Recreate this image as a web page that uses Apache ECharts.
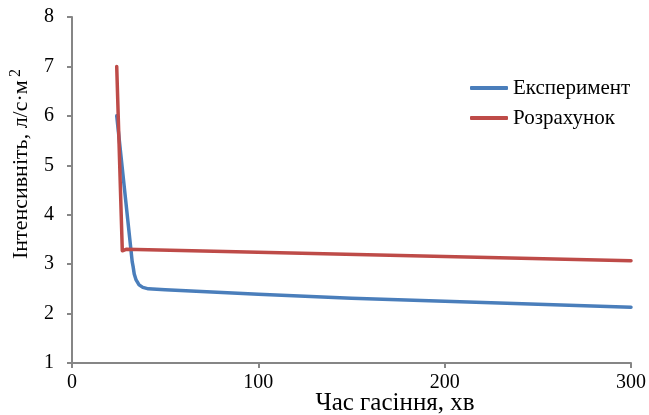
<!DOCTYPE html>
<html><head><meta charset="utf-8">
<script src="https://cdn.jsdelivr.net/npm/echarts@6/dist/echarts.min.js"></script>
<style>html,body{margin:0;padding:0;background:#fff}#c{width:649px;height:415px}</style>
</head><body><div id="c"></div>
<script>
const seriesNames = ['Експеримент', 'Розрахунок'];
const experiment = [[24,6.0],[32.3,3.05],[32.8,2.95],[33.4,2.8],[34.4,2.68],[36,2.58],[38,2.53],[41,2.5],[50,2.48],[100,2.39],[150,2.31],[200,2.25],[250,2.19],[300,2.13]];
const calculation = [[24,7.0],[27,3.27],[29,3.3],[300,3.07]];
const xTicks = [0,100,200,300];
const yTicks = [1,2,3,4,5,6,7,8];
const xTitle = 'Час гасіння, хв';
const yTitle = 'Інтенсивніть, л/с·м';

const font = '"Liberation Serif", "Times New Roman", serif';
const axisColor = '#868686';
const chart = echarts.init(document.getElementById('c'), null, {renderer:'canvas'});
chart.setOption({
  animation:false,
  backgroundColor:'#fff',
  grid:{left:72,right:16,top:17,bottom:52,containLabel:false},
  legend:{
    orient:'vertical', left:465, top:72, itemWidth:38, itemHeight:4, itemGap:8,
    icon:'roundRect',
    textStyle:{fontFamily:font,fontSize:21,color:'#000',lineHeight:22},
    data:seriesNames
  },
  xAxis:{
    type:'value', min:xTicks[0], max:xTicks[xTicks.length-1], interval:100,
    axisLine:{show:true,lineStyle:{color:axisColor,width:2}},
    axisTick:{show:true,length:5,lineStyle:{color:axisColor,width:2}},
    splitLine:{show:false},
    axisLabel:{fontFamily:font,fontSize:20,color:'#000',margin:10}
  },
  yAxis:{
    type:'value', min:yTicks[0], max:yTicks[yTicks.length-1], interval:1,
    axisLine:{show:true,lineStyle:{color:axisColor,width:2}},
    axisTick:{show:true,length:5,lineStyle:{color:axisColor,width:2}},
    splitLine:{show:false},
    axisLabel:{fontFamily:font,fontSize:20,color:'#000',margin:18}
  },
  graphic:[
    {type:'text', x:395, y:403, style:{text:xTitle, font:'25px '+font, fill:'#000', align:'center', verticalAlign:'middle'}},
    {type:'text', x:21, y:164, rotation:Math.PI/2,
      style:{text:'{a|'+yTitle+'} {b|2}', align:'center', verticalAlign:'middle',
        rich:{a:{fontFamily:font,fontSize:22,fill:'#000',color:'#000'},
              b:{fontFamily:font,fontSize:16,color:'#000',fill:'#000',verticalAlign:'top',padding:[0,0,10,0]}}}}
  ],
  series:[
    {name:seriesNames[0], type:'line', data:experiment, showSymbol:false, symbol:'none',
      lineStyle:{color:'#4A7EBB',width:3.5,cap:'round',join:'round'}, itemStyle:{color:'#4A7EBB'}},
    {name:seriesNames[1], type:'line', data:calculation, showSymbol:false, symbol:'none',
      lineStyle:{color:'#BE4B48',width:3.5,cap:'round',join:'round'}, itemStyle:{color:'#BE4B48'}}
  ]
});
</script></body></html>
